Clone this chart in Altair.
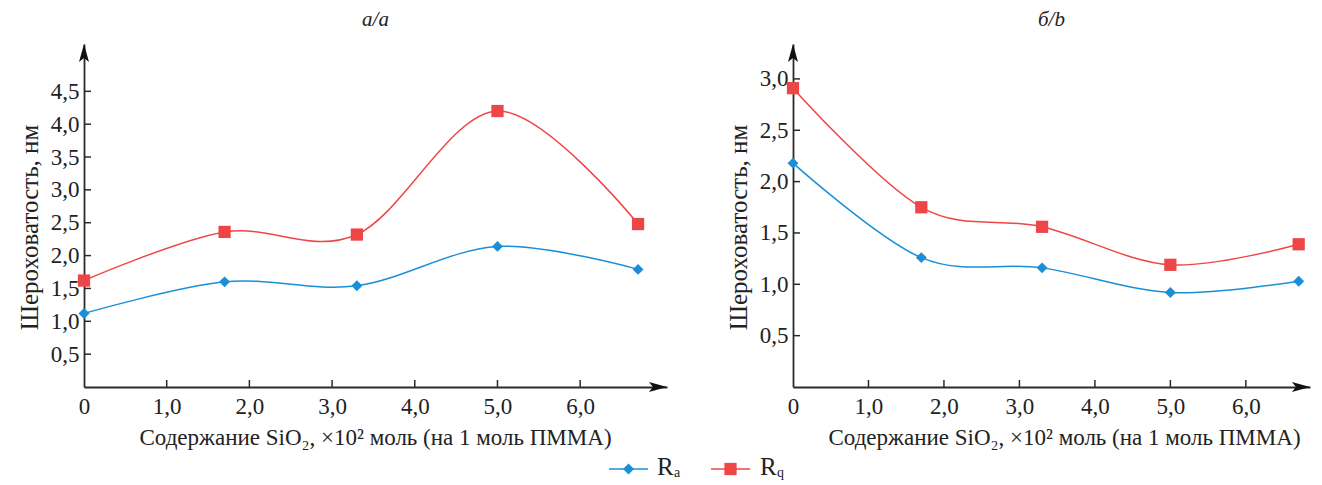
import altair as alt
import pandas as pd

# ---- data ----
x_vals = [0.0, 1.7, 3.3, 5.0, 6.7]
a_ra = [1.12, 1.60, 1.54, 2.14, 1.79]
a_rq = [1.62, 2.36, 2.32, 4.20, 2.48]
b_ra = [2.18, 1.26, 1.16, 0.92, 1.03]
b_rq = [2.91, 1.75, 1.56, 1.19, 1.39]

series = ["Ra", "Rq"]
colors = ["#1a8fd8", "#ee4646"]
shapes = ["diamond", "square"]
sizes = [120, 150]

x_ticks = [0, 1, 2, 3, 4, 5, 6]
a_y_ticks = [0.5, 1.0, 1.5, 2.0, 2.5, 3.0, 3.5, 4.0, 4.5]
b_y_ticks = [0.5, 1.0, 1.5, 2.0, 2.5, 3.0]

x_title = "Содержание SiO₂, ×10² моль (на 1 моль ПММА)"
y_title = "Шероховатость, нм"

FONT = "Liberation Serif"
AXIS_COLOR = "#2b2b2b"
H = 343

num_expr = "datum.value == 0 ? '0' : replace(format(datum.value, '.1f'), '.', ',')"

ARROW_R = "M1,0 L-1,-0.55 L-0.55,0 L-1,0.55 Z"
ARROW_U = "M0,-1 L-0.55,1 L0,0.55 L0.55,1 Z"


def panel(ra, rq, x_dom, y_dom, y_ticks, width, title_txt, x_title_x, legend=False):
    xs = alt.Scale(domain=x_dom, nice=False, zero=False)
    ys = alt.Scale(domain=y_dom, nice=False, zero=False)
    xaxis = alt.Axis(values=x_ticks, labelExpr=num_expr, ticks=False, grid=False,
                     domainColor=AXIS_COLOR, domainWidth=1.8, labelFont=FONT,
                     labelFontSize=23, labelColor="#222", labelPadding=8,
                     title=x_title, titleFont=FONT, titleFontSize=23,
                     titleFontWeight="normal", titleColor="#222", titlePadding=8,
                     titleX=x_title_x, labelFlush=False)
    yaxis = alt.Axis(values=y_ticks, labelExpr=num_expr, ticks=False, grid=False,
                     domainColor=AXIS_COLOR, domainWidth=1.8, labelFont=FONT,
                     labelFontSize=23, labelColor="#222", labelPadding=5,
                     title=y_title, titleFont=FONT, titleFontSize=25,
                     titleFontWeight="normal", titleColor="#222", titlePadding=8,
                     titleY=183)
    X = alt.X("x:Q", scale=xs, axis=xaxis)
    Y = alt.Y("y:Q", scale=ys, axis=yaxis)

    layers = []
    for s, vals, c, shp, sz in zip(series, [ra, rq], colors, shapes, sizes):
        df = pd.DataFrame({"x": x_vals, "y": vals})
        base = alt.Chart(df)
        layers.append(base.mark_line(interpolate="cardinal", color=c, strokeWidth=1.5).encode(x=X, y=Y))
        layers.append(base.mark_point(shape=shp, filled=True, color=c, opacity=1, size=sz).encode(x=X, y=Y))

    # inward ticks
    xt = pd.DataFrame({"x": x_ticks[1:]})
    layers.append(alt.Chart(xt).mark_rule(color=AXIS_COLOR, strokeWidth=1.5).encode(
        x=X, y=alt.value(H), y2=alt.value(H - 7)))
    yt = pd.DataFrame({"y": y_ticks})
    layers.append(alt.Chart(yt).mark_rule(color=AXIS_COLOR, strokeWidth=1.5).encode(
        y=Y, x=alt.value(0), x2=alt.value(7)))

    # arrow heads
    one = pd.DataFrame({"k": [0]})
    layers.append(alt.Chart(one).mark_point(shape=ARROW_R, filled=True, color="#111",
                                            opacity=1, size=330, strokeWidth=0).encode(
        x=alt.value(width - 9), y=alt.value(H)))
    layers.append(alt.Chart(one).mark_point(shape=ARROW_U, filled=True, color="#111",
                                            opacity=1, size=330, strokeWidth=0).encode(
        x=alt.value(0), y=alt.value(9)))

    if legend:
        # legend drawn below, positions relative to this (right) panel's plot origin
        ox, oy = -795, -47
        items = [
            ("R", "a", colors[0], shapes[0], sizes[0], 611, 650, 659),
            ("R", "q", colors[1], shapes[1], sizes[1], 713, 752, 762),
        ]
        for big, sub, c, shp, sz, l0, l1, tx in items:
            layers.append(alt.Chart(one).mark_rule(color=c, strokeWidth=1.5).encode(
                x=alt.value(l0 + ox), x2=alt.value(l1 + ox), y=alt.value(472 + oy)))
            layers.append(alt.Chart(one).mark_point(shape=shp, filled=True, color=c,
                                                    opacity=1, size=sz).encode(
                x=alt.value((l0 + l1) / 2 + ox), y=alt.value(472 + oy)))
            layers.append(alt.Chart(one).mark_text(text=big, font=FONT, fontSize=25,
                                                   align="left", baseline="alphabetic",
                                                   color="#222").encode(
                x=alt.value(tx + ox), y=alt.value(478 + oy)))
            layers.append(alt.Chart(one).mark_text(text=sub, font=FONT, fontSize=14,
                                                   align="left", baseline="alphabetic",
                                                   color="#222").encode(
                x=alt.value(tx + 17 + ox), y=alt.value(480 + oy)))

    return alt.layer(*layers).properties(
        width=width, height=H,
        title=alt.TitleParams(title_txt, font=FONT, fontSize=21, fontStyle="italic",
                              fontWeight="normal", color="#222", anchor="middle", offset=14),
    )


pa = panel(a_ra, a_rq, [0, 7.05], [0, 5.22], a_y_ticks, 583, "а/a", 291)
pb = panel(b_ra, b_rq, [0, 6.85], [0, 3.34], b_y_ticks, 517, "б/b", 271, legend=True)

chart = alt.hconcat(pa, pb, spacing=126, bounds="flush").properties(
    padding={"left": 9, "top": 0, "right": 0, "bottom": 0}
).configure_view(stroke=None)

chart.save("out.html", embed_options={"renderer": "svg", "actions": False})
